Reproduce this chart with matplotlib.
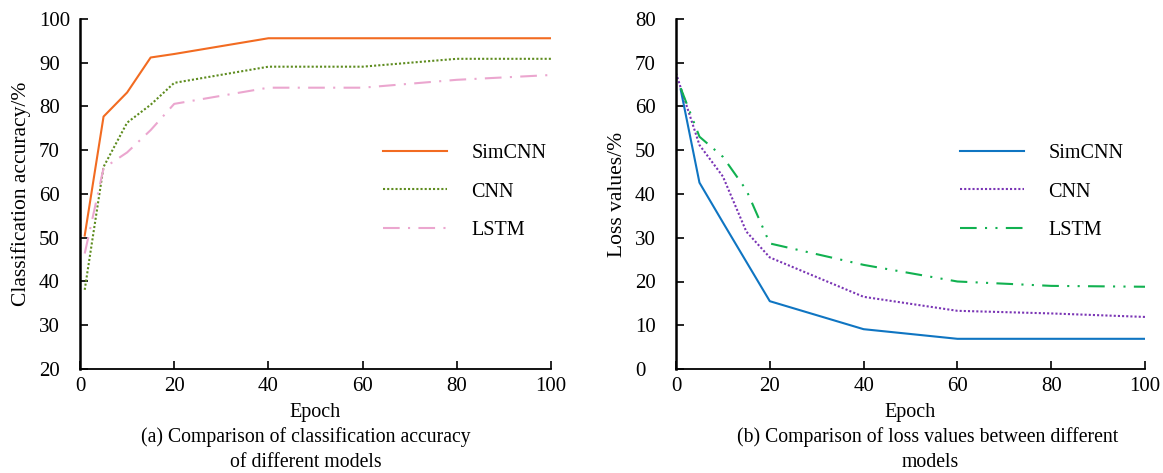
import numpy as np
import matplotlib
matplotlib.use('Agg')
import matplotlib.pyplot as plt

plt.rcParams['font.family'] = ['Liberation Serif', 'DejaVu Serif']
plt.rcParams['mathtext.fontset'] = 'stix'

# (a) classification accuracy
acc_x = [1, 5, 10, 15, 20, 40, 60, 80, 100]
acc_simcnn = [50.5, 77.7, 83.2, 91.2, 92.0, 95.6, 95.6, 95.6, 95.6]
acc_cnn    = [38.1, 66.2, 76.3, 80.4, 85.4, 89.1, 89.1, 90.9, 90.9]
acc_lstm   = [46.4, 65.9, 69.5, 74.6, 80.6, 84.3, 84.3, 86.1, 87.2]

# (b) loss values
loss_x = [1, 5, 10, 15, 20, 40, 60, 80, 100]
loss_simcnn = [63.9, 42.6, 33.5, 24.5, 15.5, 9.1, 6.9, 6.9, 6.9]
loss_cnn_x = [0, 5, 10, 15, 20, 40, 60, 80, 100]
loss_cnn    = [67.6, 51.2, 44.0, 31.4, 25.5, 16.5, 13.3, 12.7, 11.9]
loss_lstm   = [64.2, 53.1, 48.5, 40.9, 28.7, 23.8, 20.0, 19.0, 18.8]

W, H = 1163, 473
fig = plt.figure(figsize=(W/100, H/100), dpi=100)

ax1 = fig.add_axes([80/W, 1-369/H, 471/W, 350/H])
ax2 = fig.add_axes([676/W, 1-369/H, 469/W, 350/H])

ax1.plot(acc_x, acc_simcnn, color='#F26B21', lw=1.5, label='SimCNN')
ax1.plot(acc_x, acc_cnn, color='#5E8C1F', lw=1.5, ls=(0, (1, 1)), label='CNN')
ax1.plot(acc_x, acc_lstm, color='#EBA6CF', lw=1.5, ls=(0, (8, 4, 1, 4)), label='LSTM')
ax1.set_xlim(0, 100)
ax1.set_ylim(20, 100)
ax1.set_yticks(np.arange(20, 101, 10))
ax1.set_ylabel('Classification accuracy/%', fontsize=15.5)

ax2.plot(loss_x, loss_simcnn, color='#0F75C2', lw=1.5, label='SimCNN')
ax2.plot(loss_cnn_x, loss_cnn, color='#7A35B5', lw=1.5, ls=(0, (1, 1)), label='CNN')
ax2.plot(loss_x, loss_lstm, color='#11B150', lw=1.5, ls=(0, (8, 4, 1, 4, 1, 4)), label='LSTM')
ax2.set_xlim(0, 100)
ax2.set_ylim(0, 80)
ax2.set_yticks(np.arange(0, 81, 10))
ax2.set_ylabel('Loss values/%', fontsize=15.5)

leg_x = {ax1: (383-80)/471, ax2: (960-676)/469}

for ax in (ax1, ax2):
    ax.set_xticks(np.arange(0, 101, 20))
    ax.spines['top'].set_visible(False)
    ax.spines['right'].set_visible(False)
    ax.spines['left'].set_linewidth(1.8)
    ax.spines['bottom'].set_linewidth(1.3)
    ax.tick_params(direction='in', length=6, width=1.2, labelsize=15)
    ax.tick_params(axis='x', pad=6)
    ax.tick_params(axis='y', pad=29.5)
    for t in ax.get_yticklabels():
        t.set_horizontalalignment('left')
    ax.yaxis.set_label_coords(-0.104, 0.5)
    ax.set_xlabel('Epoch', fontsize=14.5, labelpad=5)
    ax.legend(loc='center left', bbox_to_anchor=(leg_x[ax], (369-192)/350),
              frameon=False, borderpad=0, borderaxespad=0,
              fontsize=14.5, handlelength=3.2, handletextpad=1.2, labelspacing=0.95)

fig.text(306/W, 1-437/H, '(a) Comparison of classification accuracy', ha='center', va='center', fontsize=14.2)
fig.text(306/W, 1-462/H, 'of different models', ha='center', va='center', fontsize=14.2)
fig.text(928/W, 1-437/H, '(b) Comparison of loss values between different', ha='center', va='center', fontsize=14.2)
fig.text(930/W, 1-462/H, 'models', ha='center', va='center', fontsize=14.2)

fig.savefig('out.png', dpi=100)
